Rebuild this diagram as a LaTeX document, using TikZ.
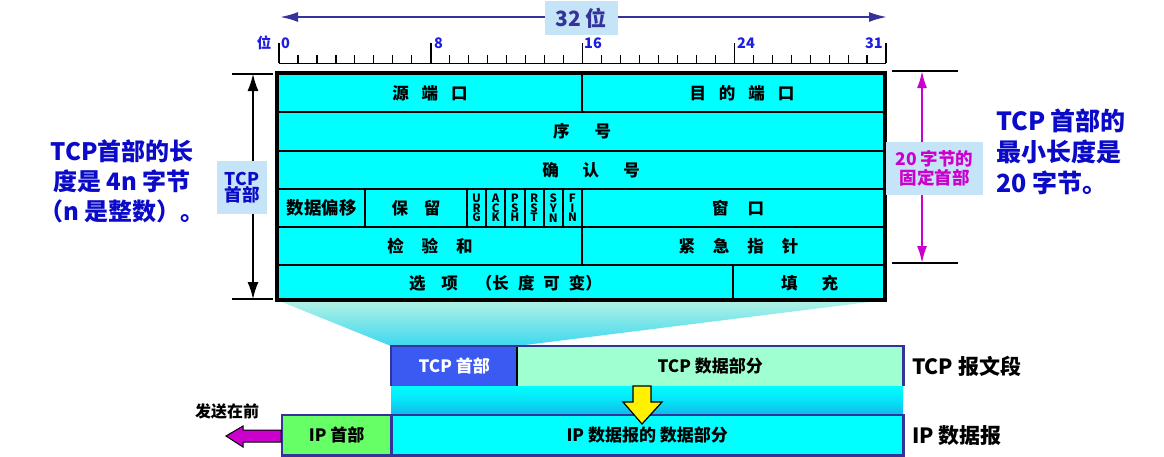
\documentclass[tikz,border=0pt]{standalone}
\usepackage{fontspec}
\setmainfont{Noto Sans CJK SC}
\usetikzlibrary{arrows.meta}
\definecolor{dkblue}{HTML}{333399}
\definecolor{lblbg}{HTML}{C6E4F8}
\definecolor{txtblue}{HTML}{0A0AC8}
\definecolor{ruleblue}{HTML}{1E1EE0}
\definecolor{mag}{HTML}{CC00CC}
\definecolor{cellcyan}{HTML}{00FFFF}
\definecolor{hdrblue}{HTML}{3A5AF2}
\definecolor{mint}{HTML}{A0FFD0}
\definecolor{ipgreen}{HTML}{66FF66}
\definecolor{trtop}{HTML}{B4F2E4}
\definecolor{trbot}{HTML}{3CD8F0}
\definecolor{bandbot}{HTML}{10B8EC}
\newcommand\fsz[1]{\fontsize{#1}{#1}\selectfont}
\newcommand\gp[1]{\hspace{#1pt}}
\begin{document}
\begin{tikzpicture}[x=1pt,y=-1pt,
  cell/.style={draw=black, line width=2pt, fill=cellcyan, inner sep=0pt, anchor=north west, font=\fsz{16.5}\bfseries, text=black},
  flag/.style={cell, minimum width=19.17, minimum height=38, font=\fontsize{11.5}{9.7}\selectfont\bfseries, align=center},
  lbl/.style={fill=lblbg, inner sep=0pt, align=center, font=\fsz{17.5}\bfseries},
  seg/.style={inner sep=0pt, anchor=north west, font=\fsz{17}\bfseries},
  rnum/.style={font=\fsz{14.5}\bfseries, text=ruleblue, inner sep=0pt},
  big/.style={font=\fsz{24}\bfseries, text=txtblue, inner sep=0pt}
]
\useasboundingbox (0,0) rectangle (1164,456);

% ---- top 32-bit arrow
\coordinate (tl) at (280,17);
\coordinate (tr) at (887,17);
\draw[dkblue, line width=2pt, {Latex[length=18pt,width=10pt]}-{Latex[length=18pt,width=10pt]}] (tl) -- (tr);
\node[fill=lblbg, minimum width=73, minimum height=34, inner sep=0pt, font=\fsz{21}\bfseries, text=dkblue] (bits) at (581,18) {32 位};

% ---- ruler
\draw[black, line width=1.5pt] (279,63.3) -- (886,63.3);
\foreach \i in {0,...,32}{
  \pgfmathsetmacro\xx{279+\i*18.97}
  \pgfmathtruncatemacro\mm{mod(\i,8)}
  \ifnum\mm=0
    \draw[black, line width=1.5pt] (\xx,63.3) -- (\xx,43);
  \else
    \draw[black, line width=1.2pt] (\xx,63.3) -- (\xx,55);
  \fi
}
\node[rnum] (wei) at (264,43) {位};
\node[rnum, anchor=west] (n0) at (281,43) {0};
\node[rnum, anchor=west] (n8) at (434,43) {8};
\node[rnum, anchor=west] (n16) at (584,43) {16};
\node[rnum, anchor=west] (n24) at (737,43) {24};
\node[rnum, anchor=east] (n31) at (883,43) {31};

% ---- trapezoid
\shade[top color=trtop, bottom color=trbot] (277,300) -- (885,300) -- (517,346) -- (391,346) -- cycle;

% ---- header table
\node[cell, minimum width=304, minimum height=38] (src) at (277,73) {源\gp{13}端\gp{13}口};
\node[cell, minimum width=304, minimum height=38] (dst) at (581,73) {\hspace{16pt}目\gp{13}的\gp{13}端\gp{13}口};
\node[cell, minimum width=608, minimum height=39] (seq) at (277,111) {序\gp{25}号};
\node[cell, minimum width=608, minimum height=38] (ack) at (277,150) {\hspace{18pt}确\gp{24}认\gp{24}号};
\node[cell, minimum width=87, minimum height=38, font=\fsz{17.5}\bfseries] (off) at (277,188) {数据偏移};
\node[cell, minimum width=102, minimum height=38] (rsv) at (364,188) {保\gp{16}留};
\node[flag] (furg) at (466,188) {U\\R\\G};
\node[flag] (fack) at (485.17,188) {A\\C\\K};
\node[flag] (fpsh) at (504.33,188) {P\\S\\H};
\node[flag] (frst) at (523.5,188) {R\\S\\T};
\node[flag] (fsyn) at (542.67,188) {S\\Y\\N};
\node[flag] (ffin) at (561.83,188) {F\\I\\N};
\node[cell, minimum width=304, minimum height=38] (win) at (581,188) {\hspace{8pt}窗\gp{19}口};
\node[cell, minimum width=304, minimum height=38] (chk) at (277,226) {检\gp{18}验\gp{18}和};
\node[cell, minimum width=304, minimum height=38] (urp) at (581,226) {\hspace{9pt}紧\gp{18}急\gp{18}指\gp{18}针};
\node[cell, minimum width=455, minimum height=36] (opt) at (277,264) {选\gp{16}项\gp{18}（长\gp{9}度\gp{9}可\gp{9}变）};
\node[cell, minimum width=153, minimum height=36] (pad) at (732,264) {填\gp{24}充};
\draw[black, line width=3.5pt] (277,73) rectangle (885,300);

% ---- left dimension
\coordinate (lt) at (253,74);
\coordinate (lb) at (253,299);
\draw[black, line width=1.5pt] (232,74) -- (273,74);
\draw[black, line width=1.5pt] (232,299) -- (273,299);
\draw[black, line width=1.5pt, {Latex[length=17pt,width=11pt]}-{Latex[length=17pt,width=11pt]}] (lt) -- (lb);
\node[lbl, minimum width=50, minimum height=53, text=txtblue] (tcphd) at (242,187.5) {TCP\\[-1pt]首部};

% ---- right dimension
\coordinate (rt) at (922,71);
\coordinate (rb) at (922,263);
\draw[black, line width=1.5pt] (892,71) -- (958,71);
\draw[black, line width=1.5pt] (892,263) -- (958,263);
\draw[mag, line width=2pt, {Latex[length=17pt,width=10pt]}-{Latex[length=17pt,width=10pt]}] (rt) -- (rb);
\node[lbl, minimum width=97, minimum height=53, text=mag] (fix) at (934.5,168.5) {20 字节的\\[1pt]固定首部};

% ---- side texts
\node[big, align=center] (lefttxt) at (122,181) {TCP首部的长\\[6pt]度是 4n 字节\\[6pt]（n 是整数）。};
\node[big, align=left, anchor=west, font=\fsz{25}\bfseries] (righttxt) at (996,152) {TCP 首部的\\[6pt]最小长度是\\[6pt]20 字节。};

% ---- TCP segment
\node[seg, fill=hdrblue, text=white, minimum width=126, minimum height=40] (tcph) at (391,346) {TCP 首部};
\node[seg, fill=mint, text=black, minimum width=386, minimum height=40] (tcpd) at (517,346) {TCP 数据部分};
\draw[black, line width=2pt] (tcph.north east) -- (tcph.south east);
\draw[dkblue, line width=2.5pt] (tcph.south west) -- (tcph.north west) -- (tcpd.north east) -- (tcpd.south east);
\node[font=\fsz{21}\bfseries, anchor=west, inner sep=0pt] (tcpseg) at (912,366) {TCP 报文段};

% ---- band
\shade[top color=cellcyan, bottom color=bandbot, middle color=cellcyan!60!bandbot] (391,386) rectangle (903,415);

% ---- IP datagram
\node[seg, fill=ipgreen, text=black, minimum width=109, minimum height=40] (iph) at (282,415) {IP 首部};
\node[seg, fill=cellcyan, text=black, minimum width=512, minimum height=40] (ipd) at (391,415) {IP 数据报的 数据部分};
\draw[dkblue, line width=2.5pt] (iph.north west) rectangle (ipd.south east);
\draw[dkblue, line width=2.5pt] (iph.north east) -- (iph.south east);
\node[font=\fsz{21}\bfseries, anchor=west, inner sep=0pt] (ipdg) at (912,436) {IP 数据报};

% ---- yellow arrow
\draw[black, line width=1.2pt, fill=yellow] (633,386) -- (651,386) -- (651,402) -- (662,402) -- (642,424) -- (623,402) -- (633,402) -- cycle;

% ---- magenta send arrow
\draw[black, line width=1pt, fill=mag] (281,430) -- (243,430) -- (243,426) -- (226,436) -- (243,447) -- (243,442) -- (281,442) -- cycle;
\node[font=\fsz{16}\bfseries, inner sep=0pt] (send) at (227,411) {发送在前};
\end{tikzpicture}
\end{document}
